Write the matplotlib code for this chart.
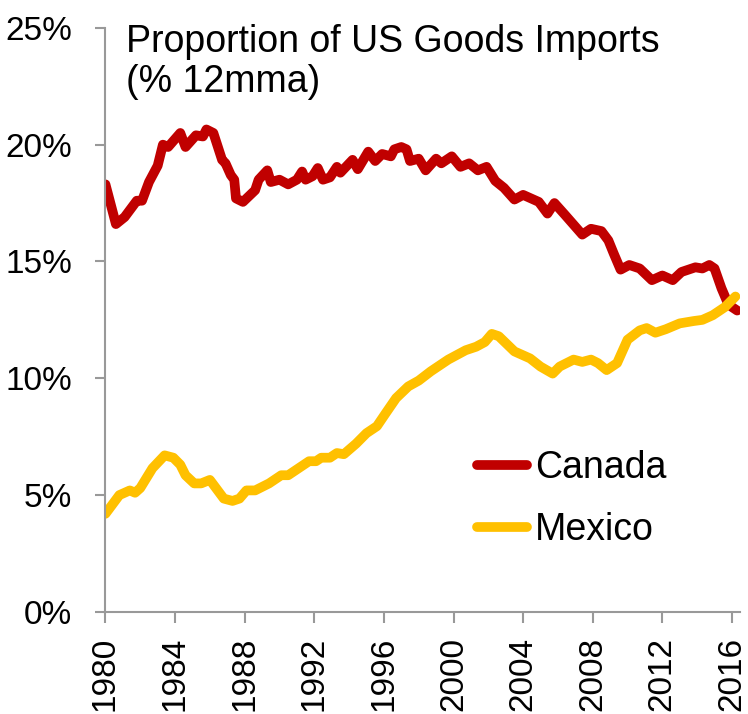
import matplotlib
matplotlib.use("Agg")
import matplotlib.pyplot as plt

# values (year as decimal, % share of US goods imports)
canada_years = [1980.0, 1980.6, 1981.1, 1981.8, 1982.1, 1982.5, 1983.0, 1983.3, 1983.6, 1984.3,
                1984.6, 1985.2, 1985.6, 1985.8, 1986.2, 1986.7, 1986.9, 1987.2, 1987.4, 1987.5,
                1987.9, 1988.6, 1988.8, 1989.3, 1989.5, 1990.0, 1990.5, 1991.0, 1991.3, 1991.5,
                1991.9, 1992.2, 1992.5, 1992.9, 1993.3, 1993.5, 1994.2, 1994.5, 1995.1, 1995.5,
                1995.9, 1996.4, 1996.6, 1997.0, 1997.3, 1997.5, 1998.0, 1998.4, 1999.0, 1999.3,
                1999.9, 2000.4, 2000.9, 2001.4, 2001.9, 2002.4, 2002.9, 2003.5, 2004.0, 2004.9,
                2005.4, 2005.8, 2006.4, 2007.4, 2007.9, 2008.5, 2008.9, 2009.2, 2009.6, 2010.1,
                2010.7, 2011.4, 2012.0, 2012.6, 2013.1, 2013.9, 2014.3, 2014.7, 2015.0, 2015.4,
                2015.8, 2016.3]
canada = [18.3, 16.6, 16.9, 17.6, 17.6, 18.4, 19.1, 20.0, 19.9, 20.5,
          19.9, 20.4, 20.35, 20.65, 20.5, 19.35, 19.2, 18.7, 18.5, 17.7,
          17.55, 18.05, 18.5, 18.9, 18.4, 18.5, 18.3, 18.5, 18.85, 18.5,
          18.65, 19.0, 18.5, 18.6, 19.05, 18.8, 19.35, 18.95, 19.7, 19.3,
          19.6, 19.5, 19.8, 19.9, 19.8, 19.3, 19.4, 18.9, 19.4, 19.2,
          19.5, 19.05, 19.2, 18.9, 19.05, 18.45, 18.15, 17.65, 17.85, 17.55,
          17.05, 17.5, 17.0, 16.15, 16.4, 16.3, 15.9, 15.35, 14.65, 14.85,
          14.7, 14.2, 14.4, 14.2, 14.55, 14.75, 14.7, 14.85, 14.7, 13.85,
          13.15, 12.9]

mexico_years = [1980.0, 1980.8, 1981.4, 1981.7, 1982.0, 1982.7, 1983.4, 1983.9, 1984.3, 1984.6,
                1985.1, 1985.5, 1986.0, 1986.2, 1986.8, 1987.3, 1987.7, 1988.1, 1988.6, 1989.4,
                1990.1, 1990.5, 1991.1, 1991.7, 1992.1, 1992.4, 1992.9, 1993.3, 1993.7, 1994.4,
                1995.0, 1995.6, 1996.1, 1996.7, 1997.4, 1998.0, 1998.7, 1999.7, 2000.7, 2001.3,
                2001.8, 2002.2, 2002.6, 2003.5, 2004.4, 2005.0, 2005.7, 2006.1, 2006.9, 2007.4,
                2007.9, 2008.3, 2008.8, 2009.4, 2010.0, 2010.7, 2011.1, 2011.6, 2012.2, 2013.0,
                2013.8, 2014.3, 2014.9, 2015.6, 2016.2]
mexico = [4.2, 5.0, 5.2, 5.1, 5.3, 6.15, 6.7, 6.6, 6.3, 5.85,
          5.5, 5.5, 5.65, 5.45, 4.85, 4.75, 4.85, 5.2, 5.2, 5.5,
          5.85, 5.85, 6.15, 6.45, 6.45, 6.6, 6.6, 6.8, 6.75, 7.2,
          7.65, 7.95, 8.5, 9.15, 9.65, 9.9, 10.3, 10.8, 11.2, 11.35,
          11.55, 11.9, 11.8, 11.15, 10.85, 10.5, 10.2, 10.5, 10.8, 10.7,
          10.8, 10.65, 10.35, 10.65, 11.65, 12.05, 12.15, 11.95, 12.1, 12.35,
          12.45, 12.5, 12.7, 13.05, 13.5]

xticks = [1980, 1984, 1988, 1992, 1996, 2000, 2004, 2008, 2012, 2016]
yticks = [0, 5, 10, 15, 20, 25]

plt.rcParams['font.family'] = ['Liberation Sans', 'DejaVu Sans']

fig = plt.figure(figsize=(7.48, 7.14), dpi=100)
ax = fig.add_axes([0.141, 0.143, 0.848, 0.818])

ax.plot(canada_years, canada, color='#C00000', lw=7, solid_capstyle='round',
        solid_joinstyle='round', label='Canada')
ax.plot(mexico_years, mexico, color='#FFC000', lw=7, solid_capstyle='round',
        solid_joinstyle='round', label='Mexico')

ax.set_xlim(1980, 2016.45)
ax.set_ylim(0, 25)
ax.set_xticks(xticks)
ax.set_xticklabels([str(y) for y in xticks], rotation=90)
ax.set_yticks(yticks)
ax.set_yticklabels(['%d%%' % v for v in yticks])

for s in ['top', 'right']:
    ax.spines[s].set_visible(False)
for s in ['left', 'bottom']:
    ax.spines[s].set_color('#999999')
    ax.spines[s].set_linewidth(1.5)

ax.tick_params(axis='x', length=8, width=1.5, color='#999999', pad=10, labelsize=24)
ax.tick_params(axis='y', length=7, width=1.5, color='#999999', pad=17, labelsize=24)

ax.text(0.032, 1.007, 'Proportion of US Goods Imports\n(% 12mma)', transform=ax.transAxes,
        fontsize=27, va='top', ha='left', linespacing=1.15)

ax.legend(loc='center left', bbox_to_anchor=(0.585, 0.193), frameon=False, fontsize=27,
          handlelength=1.35, handletextpad=0.2, labelspacing=0.7,
          borderpad=0, borderaxespad=0)

fig.savefig('out.png', dpi=100)
